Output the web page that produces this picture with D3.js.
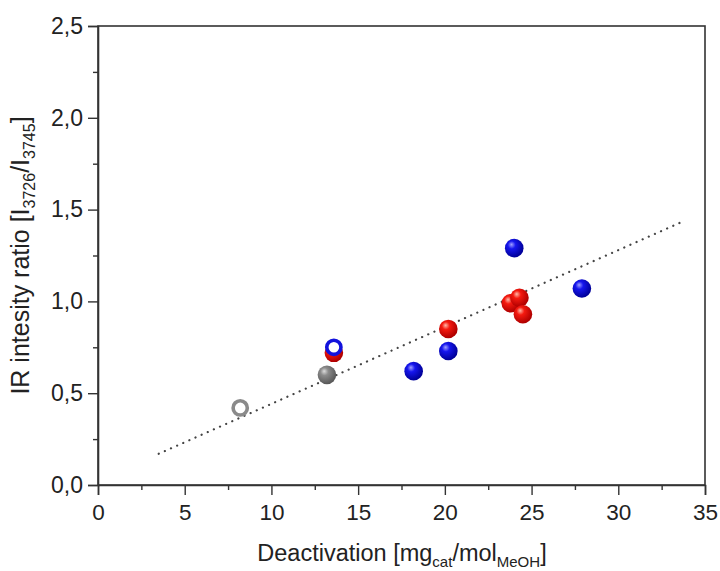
<!DOCTYPE html>
<html>
<head>
<meta charset="utf-8">
<script src="https://cdn.jsdelivr.net/npm/d3@7"></script>
<style>
  body { margin: 0; background: #fff; }
  svg text { font-family: "Liberation Sans", Arial, sans-serif; fill: #222; }
</style>
</head>
<body>
<svg id="svg" width="720" height="571"></svg>
<script>
"use strict";

// series
const grayOpenX = [8.2];
const grayOpenY = [0.42];
const grayX = [13.2];
const grayY = [0.60];
const redX = [13.6, 20.2, 23.8, 24.3, 24.5];
const redY = [0.72, 0.85, 0.99, 1.02, 0.93];
const blueX = [18.2, 20.2, 24.0, 27.9];
const blueY = [0.62, 0.73, 1.29, 1.07];
const blueOpenX = [13.6];
const blueOpenY = [0.75];
const fitX = [3.5, 33.6];
const fitY = [0.17, 1.43];
const xTicks = [0, 5, 10, 15, 20, 25, 30, 35];
const yTicks = [0, 0.5, 1.0, 1.5, 2.0, 2.5];

const svg = d3.select("#svg");
const plotL = 98, plotR = 705, plotT = 26, plotB = 485;

const x = d3.scaleLinear().domain([0, 35]).range([plotL, plotR]);
const y = d3.scaleLinear().domain([0, 2.5]).range([plotB, plotT]);

const comma = d3.formatLocale({decimal: ",", thousands: ".", grouping: [3], currency: ["", ""]});
const fmt = comma.format(".1f");

// sphere gradients
const defs = svg.append("defs");
function sphere(id, light, base, dark) {
  const g = defs.append("radialGradient")
    .attr("id", id).attr("cx", "40%").attr("cy", "38%").attr("r", "60%")
    .attr("fx", "35%").attr("fy", "30%");
  g.append("stop").attr("offset", "0%").attr("stop-color", light);
  g.append("stop").attr("offset", "35%").attr("stop-color", base);
  g.append("stop").attr("offset", "100%").attr("stop-color", dark);
}
sphere("gBlue", "#a0a0ff", "#1616ee", "#00009a");
sphere("gRed", "#ffb8a8", "#f51a10", "#b00000");
sphere("gGray", "#dcdcdc", "#8c8c8c", "#5a5a5a");

// frame
svg.append("rect")
  .attr("x", plotL).attr("y", plotT)
  .attr("width", plotR - plotL).attr("height", plotB - plotT)
  .attr("fill", "none").attr("stroke", "#333").attr("stroke-width", 1.6);

// minor ticks
const xMinor = d3.range(2.5, 35, 5);
const yMinor = d3.range(0.25, 2.5, 0.5);

const gX = svg.append("g")
  .attr("transform", `translate(0,${plotB})`)
  .call(d3.axisBottom(x).tickValues(xTicks).tickSize(10).tickPadding(9).tickFormat(d3.format("d")));
svg.append("g")
  .attr("transform", `translate(0,${plotB})`)
  .call(d3.axisBottom(x).tickValues(xMinor).tickSize(5).tickFormat(""))
  .select(".domain").remove();

const gY = svg.append("g")
  .attr("transform", `translate(${plotL},0)`)
  .call(d3.axisLeft(y).tickValues(yTicks).tickSize(10).tickPadding(5).tickFormat(fmt));
svg.append("g")
  .attr("transform", `translate(${plotL},0)`)
  .call(d3.axisLeft(y).tickValues(yMinor).tickSize(5).tickFormat(""))
  .select(".domain").remove();

svg.selectAll(".domain").attr("stroke", "#333").attr("stroke-width", 1.6);
svg.selectAll(".tick line").attr("stroke", "#333").attr("stroke-width", 1.4);
gX.selectAll("text").attr("font-size", 22.5).attr("fill", "#222");
gY.selectAll("text").attr("font-size", 23).attr("fill", "#222");

// axis titles
const xt = svg.append("text")
  .attr("x", 402).attr("y", 561)
  .attr("text-anchor", "middle").attr("font-size", 23.5);
xt.append("tspan").text("Deactivation [mg");
xt.append("tspan").attr("font-size", 15).attr("dy", 6).text("cat");
xt.append("tspan").attr("dy", -6).text("/mol");
xt.append("tspan").attr("font-size", 15).attr("dy", 6).text("MeOH");
xt.append("tspan").attr("dy", -6).text("]");

const yt = svg.append("text")
  .attr("transform", `translate(29,${(plotT + plotB) / 2}) rotate(-90)`)
  .attr("text-anchor", "middle").attr("font-size", 25);
yt.append("tspan").text("IR intesity ratio [I");
yt.append("tspan").attr("font-size", 16).attr("dy", 6).text("3726");
yt.append("tspan").attr("dy", -6).text("/I");
yt.append("tspan").attr("font-size", 16).attr("dy", 6).text("3745");
yt.append("tspan").attr("dy", -6).text("]");

// trend line
svg.append("path")
  .datum(d3.zip(fitX, fitY))
  .attr("d", d3.line().x(d => x(d[0])).y(d => y(d[1])))
  .attr("fill", "none").attr("stroke", "#444").attr("stroke-width", 2.2)
  .attr("stroke-linecap", "round").attr("stroke-dasharray", "0.1,6.6");

const r = 9.3;
function filled(xs, ys, grad) {
  svg.append("g").selectAll("circle")
    .data(d3.zip(xs, ys))
    .enter().append("circle")
    .attr("cx", d => x(d[0])).attr("cy", d => y(d[1]))
    .attr("r", r).attr("fill", `url(#${grad})`);
}
function open(xs, ys, color) {
  svg.append("g").selectAll("circle")
    .data(d3.zip(xs, ys))
    .enter().append("circle")
    .attr("cx", d => x(d[0])).attr("cy", d => y(d[1]))
    .attr("r", r - 2.2).attr("fill", "#fff")
    .attr("stroke", color).attr("stroke-width", 3.6);
}

open(grayOpenX, grayOpenY, "#8a8a8a");
filled(grayX, grayY, "gGray");
filled(redX, redY, "gRed");
filled(blueX, blueY, "gBlue");
open(blueOpenX, blueOpenY, "#1212dc");
</script>
</body>
</html>
